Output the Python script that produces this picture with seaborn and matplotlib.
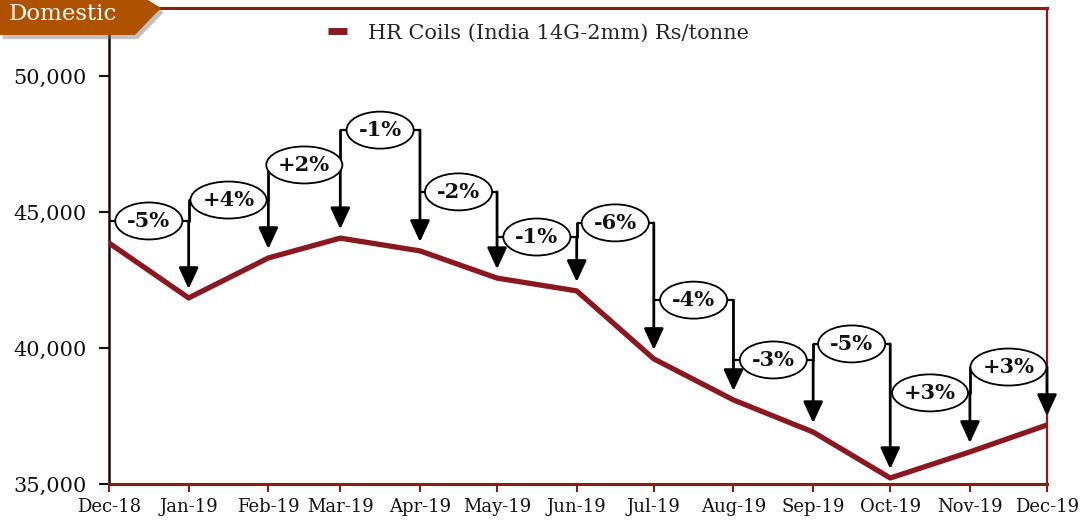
import numpy as np
import pandas as pd
import matplotlib
matplotlib.use("Agg")
import matplotlib.pyplot as plt
import matplotlib.dates as mdates
import matplotlib.ticker as mticker
import matplotlib.transforms as mtransforms
from matplotlib.patches import Polygon, Ellipse
import matplotlib.patheffects as pe
import seaborn as sns

# ---------------- data ----------------
months = ["Dec-18", "Jan-19", "Feb-19", "Mar-19", "Apr-19", "May-19", "Jun-19",
          "Jul-19", "Aug-19", "Sep-19", "Oct-19", "Nov-19", "Dec-19"]
prices = [43860, 41840, 43310, 44040, 43570, 42570, 42100,
          39600, 38090, 36910, 35220, 36180, 37170]
change_labels = ["-5%", "+4%", "+2%", "-1%", "-2%", "-1%", "-6%",
                 "-4%", "-3%", "-5%", "+3%", "+3%"]
# level (in Rs/tonne) of each bracket carrying a change label
bracket_levels = [44670, 45440, 46730, 48010, 45740, 44080, 44600,
                  41760, 39560, 40150, 38350, 39300]
series_name = "HR Coils (India 14G-2mm) Rs/tonne"
y_ticks = [35000, 40000, 45000, 50000]

dates = pd.to_datetime(months, format="%b-%y")
df = pd.DataFrame({"date": dates, "price": prices})

# ---------------- style ----------------
sns.set_theme(style="white")
plt.rcParams["font.family"] = ["DejaVu Serif"]

LINE_COL = "#8A1820"
SPINE_RED = "#8B1A1A"
TAB_COL = "#AF5200"

W, H = 1080, 523
DPI = 100
fig = plt.figure(figsize=(W / DPI, H / DPI), dpi=DPI)
ax = fig.add_axes([109 / W, (H - 484) / H, (1047 - 109) / W, (484 - 8) / H])

sns.lineplot(data=df, x="date", y="price", ax=ax, color=LINE_COL, lw=3.8,
             label=series_name, zorder=3)

ax.set_xlim(dates[0], dates[-1])
ax.set_ylim(35000, 52500)
ax.set_xlabel("")
ax.set_ylabel("")

ax.xaxis.set_major_locator(mdates.MonthLocator())
ax.xaxis.set_major_formatter(mdates.DateFormatter("%b-%y"))
ax.set_yticks(y_ticks)
ax.yaxis.set_major_formatter(mticker.StrMethodFormatter("{x:,.0f}"))

ax.tick_params(axis="x", which="major", direction="out", length=6, width=1.5,
               color=SPINE_RED, labelsize=13, labelcolor="#111111", pad=4,
               bottom=True)
ax.tick_params(axis="y", which="major", direction="out", length=7, width=1.5,
               color="#111111", labelsize=15, labelcolor="#111111", pad=9,
               left=True)

for side in ["top", "right", "bottom"]:
    ax.spines[side].set_color(SPINE_RED)
    ax.spines[side].set_visible(True)
ax.spines["top"].set_linewidth(2.2)
ax.spines["right"].set_linewidth(1.6)
ax.spines["bottom"].set_linewidth(2.2)
ax.spines["left"].set_color("#1a0a0a")
ax.spines["left"].set_linewidth(1.8)
ax.spines["left"].set_visible(True)

# ---------------- change brackets ----------------
tip_gap = 330
texts = []
for i, lab in enumerate(change_labels):
    x0, x1 = dates[i], dates[i + 1]
    b = bracket_levels[i]
    xm = x0 + (x1 - x0) / 2
    # horizontal bracket line
    ax.plot([x0, x1], [b, b], color="black", lw=1.6, zorder=4,
            solid_capstyle="butt")
    # left riser joining the previous bracket
    if i > 0 and bracket_levels[i - 1] < b:
        ax.plot([x0, x0], [b, bracket_levels[i - 1]], color="black", lw=2.0,
                zorder=4)
    # arrow down to the point
    ax.annotate("", xy=(x1, prices[i + 1] + tip_gap), xytext=(x1, b),
                arrowprops=dict(arrowstyle="-|>,head_length=0.65,head_width=0.3",
                                mutation_scale=20, lw=2.0, color="black",
                                shrinkA=0, shrinkB=0),
                zorder=5)
    t = ax.text(xm, b, lab, ha="center", va="center", fontsize=15,
                fontweight="bold", color="#111111", zorder=7)
    texts.append((t, xm, b))

# oval around each label, sized from the rendered text width
fig.canvas.draw()
renderer = fig.canvas.get_renderer()
for t, xm, b in texts:
    tw = t.get_window_extent(renderer).width
    ew = (tw + 24) / DPI
    eh = 37 / DPI
    xnum = mdates.date2num(xm)
    trans = fig.dpi_scale_trans + mtransforms.ScaledTranslation(xnum, b, ax.transData)
    ax.add_patch(Ellipse((0, 0), ew, eh, transform=trans, fc="white",
                         ec="black", lw=1.3, zorder=6, clip_on=False))

# ---------------- legend ----------------
leg = ax.legend(loc="center left", bbox_to_anchor=(328 / W, 1 - 33 / H),
                bbox_transform=fig.transFigure, frameon=False, fontsize=15,
                handlelength=0.9, handletextpad=1.0, borderaxespad=0,
                borderpad=0)
for h in leg.get_lines():
    h.set_linewidth(5)
    h.set_solid_capstyle("butt")

# ---------------- "Domestic" tab ----------------
tab_pts = np.array([[0, 0], [148, 0], [161, 8], [135, 35], [0, 35]], float)
tab_fig = np.column_stack([tab_pts[:, 0] / W, 1 - tab_pts[:, 1] / H])
tab = Polygon(tab_fig, closed=True, transform=fig.transFigure, fc=TAB_COL,
              ec="none", zorder=20,
              path_effects=[pe.SimplePatchShadow(offset=(2, -3), shadow_rgbFace="#777777",
                                                 alpha=0.45), pe.Normal()])
fig.patches.append(tab)
fig.text(9 / W, 1 - 20 / H, "Domestic", color="white", fontsize=16.5,
         ha="left", va="baseline", zorder=21)

fig.savefig("out.png", dpi=DPI)
